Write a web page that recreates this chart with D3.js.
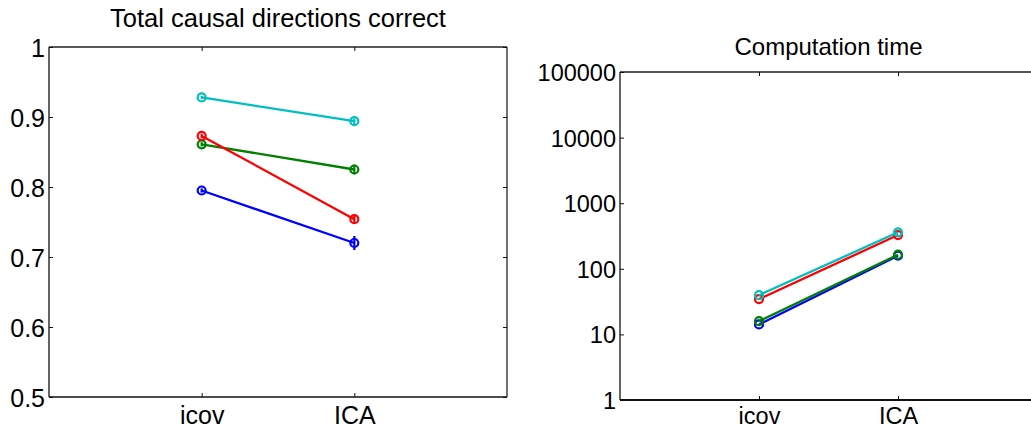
<!DOCTYPE html>
<html>
<head>
<meta charset="utf-8">
<script src="https://cdn.jsdelivr.net/npm/d3@7"></script>
<style>
  html, body { margin: 0; padding: 0; background: #fff; }
  svg { display: block; font-family: "Liberation Sans", Arial, sans-serif; }
</style>
</head>
<body>
<svg id="chart" width="1031" height="430"></svg>
<script>
// Methods compared on the x axis
const methods = ["icov", "ICA"];

// Series, drawn in this order (blue, green, red, cyan)
const seriesNames = ["s1", "s2", "s3", "s4"];
const seriesColors = ["#0000ff", "#008000", "#ff0000", "#00bfbf"];

// Fraction of causal directions correct, per method
const accuracy = [
  [0.795, 0.720],
  [0.861, 0.825],
  [0.873, 0.754],
  [0.928, 0.894]
];
// Error bar half-widths for the accuracy values
const accuracyErr = [
  [0.003, 0.010],
  [0.003, 0.007],
  [0.003, 0.005],
  [0.002, 0.004]
];

// Computation time per method (log scale)
const compTime = [
  [14.2, 158],
  [15.9, 164],
  [34.5, 327],
  [39.6, 360]
];

const accTicks = [0.5, 0.6, 0.7, 0.8, 0.9, 1];
const accTickLabels = ["0.5", "0.6", "0.7", "0.8", "0.9", "1"];
const timeTicks = [1, 10, 100, 1000, 10000, 100000];
const timeTickLabels = ["1", "10", "100", "1000", "10000", "100000"];

const svg = d3.select("#chart");
const FONT = "Liberation Sans, Arial, sans-serif";

function panel(opts) {
  const g = svg.append("g");
  const { left, right, top, bottom } = opts;
  const x = d3.scaleLinear().domain([0, 3]).range([left, right]);
  const y = opts.y;
  const xPos = (i) => x(i + 1);

  // frame
  g.append("line").attr("x1", left).attr("x2", right).attr("y1", top).attr("y2", top)
    .attr("stroke", "#222").attr("stroke-width", 1.3);
  g.append("line").attr("x1", left).attr("x2", right).attr("y1", bottom).attr("y2", bottom)
    .attr("stroke", "#111").attr("stroke-width", opts.bottomWidth || 1.5);
  g.append("line").attr("x1", left).attr("x2", left).attr("y1", top).attr("y2", bottom)
    .attr("stroke", "#111").attr("stroke-width", 1.3);
  g.append("line").attr("x1", right).attr("x2", right).attr("y1", top).attr("y2", bottom)
    .attr("stroke", "#222").attr("stroke-width", 1.3);

  // y axis (ticks inside on both sides)
  const yAxisL = d3.axisLeft(y).tickValues(opts.ticks).tickSize(-4)
    .tickFormat((d, i) => opts.tickLabels[i]).tickPadding(8);
  const ay = g.append("g").attr("transform", `translate(${left},0)`).call(yAxisL);
  ay.select(".domain").remove();
  ay.selectAll(".tick line").attr("stroke", "#111");
  ay.selectAll(".tick text").attr("font-size", opts.fontSize).attr("fill", "#000")
    .attr("font-family", FONT).attr("x", -4).attr("dy", "0.36em");

  const yAxisR = d3.axisRight(y).tickValues(opts.ticks).tickSize(-4).tickFormat("");
  const ayr = g.append("g").attr("transform", `translate(${right},0)`).call(yAxisR);
  ayr.select(".domain").remove();
  ayr.selectAll(".tick line").attr("stroke", "#111");

  // x axis (ticks inside at bottom and top)
  const xAxisB = d3.axisBottom(x).tickValues([1, 2]).tickSize(-4)
    .tickFormat((d, i) => methods[i]);
  const ax = g.append("g").attr("transform", `translate(0,${bottom})`).call(xAxisB);
  ax.select(".domain").remove();
  ax.selectAll(".tick line").attr("stroke", "#111");
  ax.selectAll(".tick text").attr("font-size", opts.fontSize).attr("fill", "#000")
    .attr("font-family", FONT).attr("y", opts.xLabelY).attr("dy", 0);

  const xAxisT = d3.axisTop(x).tickValues([1, 2]).tickSize(-4).tickFormat("");
  const axt = g.append("g").attr("transform", `translate(0,${top})`).call(xAxisT);
  axt.select(".domain").remove();
  axt.selectAll(".tick line").attr("stroke", "#111");

  // title
  g.append("text").attr("x", (left + right) / 2).attr("y", opts.titleY)
    .attr("text-anchor", "middle").attr("font-size", opts.titleSize).attr("fill", "#000")
    .attr("font-family", FONT).text(opts.title);

  // series
  const line = d3.line().x((d, i) => xPos(i)).y(d => y(d));
  opts.data.forEach((vals, s) => {
    const col = seriesColors[s];
    const sg = g.append("g").attr("class", "series-" + seriesNames[s]);
    if (opts.err) {
      vals.forEach((v, i) => {
        const e = opts.err[s][i];
        sg.append("line").attr("x1", xPos(i)).attr("x2", xPos(i))
          .attr("y1", y(v - e)).attr("y2", y(v + e))
          .attr("stroke", col).attr("stroke-width", 2.2);
      });
    }
    sg.append("path").datum(vals).attr("d", line).attr("fill", "none")
      .attr("stroke", col).attr("stroke-width", 2.3);
    sg.selectAll("circle").data(vals).join("circle")
      .attr("cx", (d, i) => xPos(i)).attr("cy", d => y(d)).attr("r", 4)
      .attr("fill", "none").attr("stroke", col).attr("stroke-width", 2.2);
  });
}

panel({
  left: 49, right: 507, top: 47, bottom: 397,
  y: d3.scaleLinear().domain([0.5, 1]).range([397, 47]),
  ticks: accTicks, tickLabels: accTickLabels,
  data: accuracy, err: accuracyErr,
  title: "Total causal directions correct", titleY: 27, titleSize: 25.5, fontSize: 25,
  xLabelY: 27
});

panel({
  left: 620, right: 1037, top: 72, bottom: 400, bottomWidth: 2.2,
  y: d3.scaleLog().domain([1, 100000]).range([400, 72]),
  ticks: timeTicks, tickLabels: timeTickLabels,
  data: compTime, err: null,
  title: "Computation time", titleY: 55, titleSize: 24, fontSize: 23.5,
  xLabelY: 24
});
</script>
</body>
</html>
